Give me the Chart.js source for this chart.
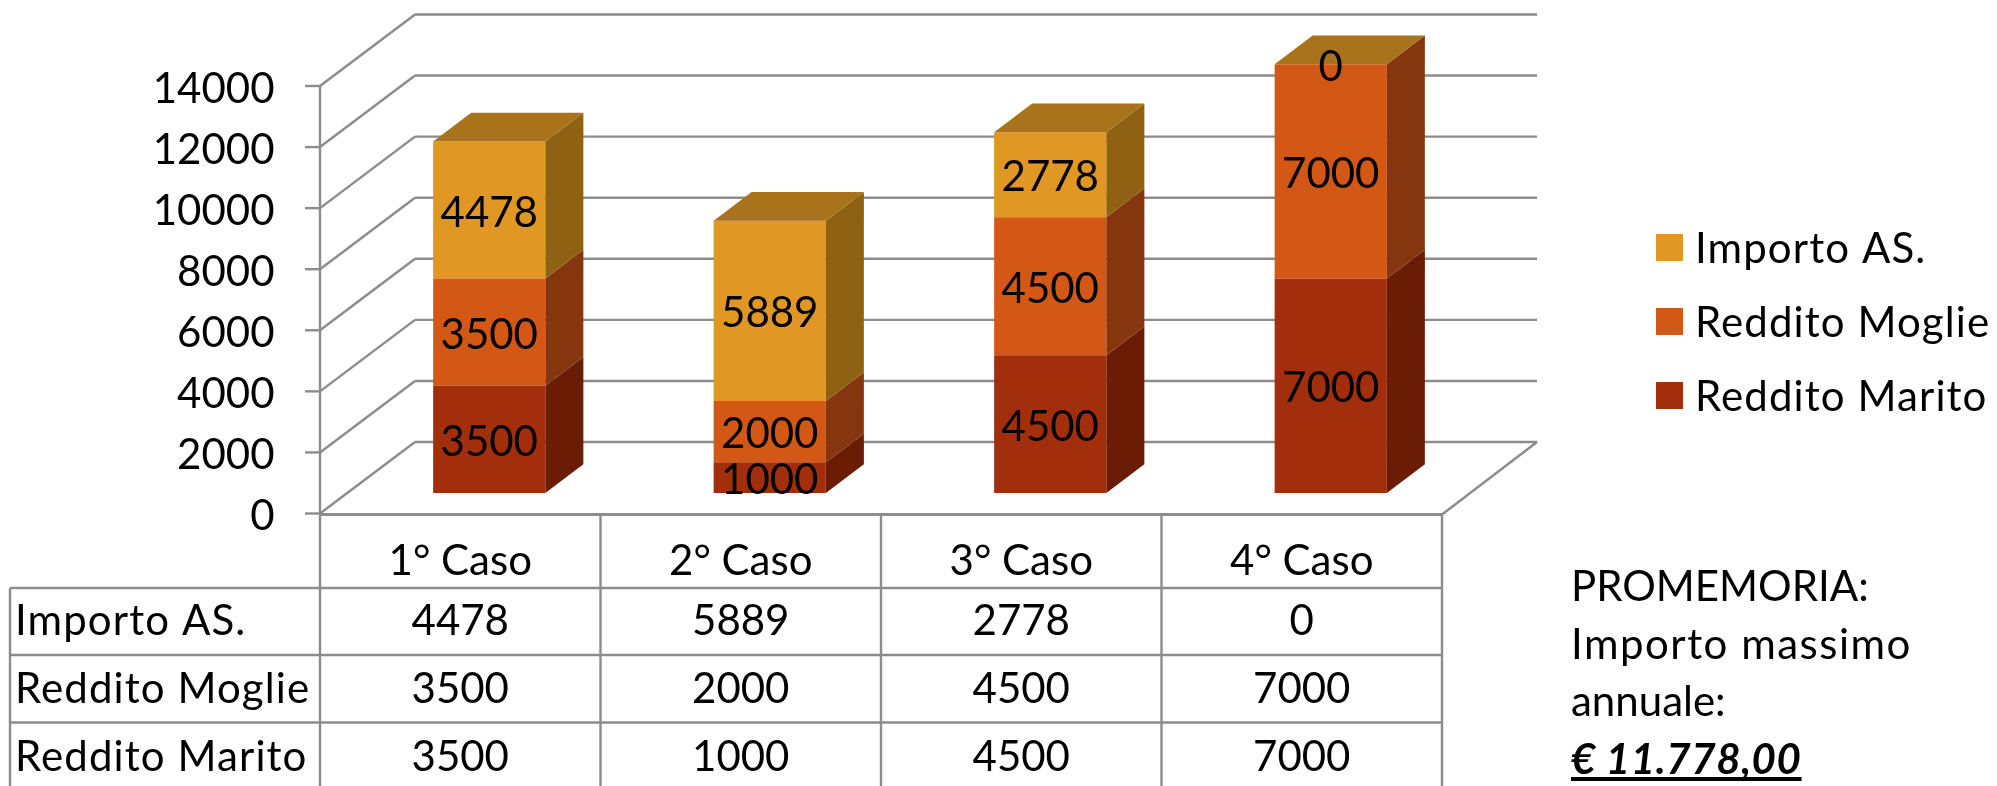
<!DOCTYPE html>
<html lang="it">
<head>
<meta charset="utf-8">
<title>Importo AS.</title>
<script src="https://cdn.jsdelivr.net/npm/chart.js@4"></script>
<style>
    html, body { margin: 0; padding: 0; background: #fff; }
    canvas { display: block; }
    #note {
        position: absolute;
        left: 1571px;
        top: 557px;
        font: 42px/57.5px Lato, sans-serif;
        color: #000;
        white-space: nowrap;
    }
    #note span { letter-spacing: 1.5px; }
    #note b {
        font-style: italic;
        letter-spacing: 0.6px;
        text-decoration: underline;
        text-decoration-skip-ink: none;
    }
</style>
</head>
<body>
<canvas id="chart" width="1997" height="786"></canvas>
<div id="note">PROMEMORIA:<br><span>Importo massimo</span><br>annuale:<br><b>€ 11.778,00</b></div>
<script>
const categories = ["1° Caso", "2° Caso", "3° Caso", "4° Caso"];
const redditoMarito = [3500, 1000, 4500, 7000];
const redditoMoglie = [3500, 2000, 4500, 7000];
const importoAS = [4478, 5889, 2778, 0];
const yTicks = [0, 2000, 4000, 6000, 8000, 10000, 12000, 14000];

const FONT = "42px Lato, sans-serif";
const LINE = "#8c8c8c";

// fake 3D: the wall is pushed back, bars stand partway along the floor
const wall = { x: 95, y: 71.5 };
const barDepth = { x: 38, y: 28.7 };
const barShift = 29;

const table = { left: 10, headerBottom: 588, rowLines: [655, 722.5], bottom: 786 };
const headerY = 561;
const rowY = [621.5, 689.5, 757.5];

function shape(ctx, points, color) {
    ctx.fillStyle = color;
    ctx.beginPath();
    points.forEach((p, i) => (i ? ctx.lineTo(p[0], p[1]) : ctx.moveTo(p[0], p[1])));
    ctx.closePath();
    ctx.fill();
}

function line(ctx, x1, y1, x2, y2, width = 2.4) {
    ctx.strokeStyle = LINE;
    ctx.lineWidth = width;
    ctx.beginPath();
    ctx.moveTo(x1, y1);
    ctx.lineTo(x2, y2);
    ctx.stroke();
}

// walls and floor, behind the bars
const wallPlugin = {
    id: "wall",
    beforeDatasetsDraw(chart) {
        const ctx = chart.ctx;
        const y = chart.scales.y;
        const left = chart.chartArea.left - barShift;
        const right = chart.chartArea.right - barShift;
        ctx.save();
        yTicks.forEach((v) => {
            const py = y.getPixelForValue(v);
            line(ctx, left - 15, py, left, py);
            line(ctx, left, py, left + wall.x, py - wall.y);
            line(ctx, left + wall.x, py - wall.y, right + wall.x, py - wall.y);
        });
        const py0 = y.getPixelForValue(0);
        line(ctx, left, y.getPixelForValue(yTicks[yTicks.length - 1]), left, py0);
        line(ctx, right, py0 + 1, right + wall.x, py0 - wall.y);
        ctx.restore();
    },
};

// side and top faces of the bars, then the value labels
const barFacesPlugin = {
    id: "barFaces",
    afterDatasetsDraw(chart) {
        const ctx = chart.ctx;
        const last = chart.data.datasets.length - 1;
        ctx.save();
        chart.data.datasets.forEach((ds, d) => {
            chart.getDatasetMeta(d).data.forEach((bar) => {
                const xl = bar.x - bar.width / 2;
                const xr = bar.x + bar.width / 2;
                shape(ctx, [[xr, bar.y], [xr + barDepth.x, bar.y - barDepth.y],
                    [xr + barDepth.x, bar.base - barDepth.y], [xr, bar.base]], ds.sideColor);
                if (d === last) {
                    shape(ctx, [[xl, bar.y], [xl + barDepth.x, bar.y - barDepth.y],
                        [xr + barDepth.x, bar.y - barDepth.y], [xr, bar.y]], ds.topColor);
                }
            });
        });
        ctx.fillStyle = "#000";
        ctx.font = FONT;
        ctx.textAlign = "center";
        ctx.textBaseline = "middle";
        chart.data.datasets.forEach((ds, d) => {
            chart.getDatasetMeta(d).data.forEach((bar, i) => {
                ctx.fillText(String(ds.data[i]), bar.x, (bar.y + bar.base) / 2 + 3);
            });
        });
        ctx.restore();
    },
};

// data table under the chart and the legend on the right
const tablePlugin = {
    id: "dataTable",
    afterDraw(chart) {
        const ctx = chart.ctx;
        const x = chart.scales.x;
        const left = chart.chartArea.left - barShift;
        const right = chart.chartArea.right - barShift;
        const top = chart.scales.y.getPixelForValue(0) + 1;
        const rows = chart.data.datasets.slice().reverse();
        const colWidth = (right - left) / categories.length;

        ctx.save();
        line(ctx, left, top, right, top, 3);
        line(ctx, table.left, table.headerBottom, right, table.headerBottom);
        table.rowLines.forEach((py) => line(ctx, table.left, py, right, py));
        line(ctx, table.left, table.headerBottom, table.left, table.bottom);
        categories.forEach((c, i) => line(ctx, left + i * colWidth, top, left + i * colWidth, table.bottom));
        line(ctx, right, top, right, table.bottom);

        ctx.fillStyle = "#000";
        ctx.font = FONT;
        ctx.textBaseline = "middle";
        ctx.textAlign = "center";
        categories.forEach((c, i) => {
            const cx = x.getPixelForTick(i) - barShift;
            ctx.fillText(c, cx, headerY);
            rows.forEach((ds, r) => ctx.fillText(String(ds.data[i]), cx, rowY[r]));
        });
        ctx.textAlign = "left";
        ctx.letterSpacing = "1.1px";
        rows.forEach((ds, r) => ctx.fillText(ds.label, 15, rowY[r]));

        rows.forEach((ds, r) => {
            const top = 234 + r * 74;
            ctx.fillStyle = ds.backgroundColor;
            ctx.fillRect(1656, top, 27, 27);
            ctx.fillStyle = "#000";
            ctx.fillText(ds.label, 1695, top + 15);
        });
        ctx.restore();
    },
};

new Chart(document.getElementById("chart"), {
    type: "bar",
    data: {
        labels: categories,
        datasets: [
            {
                label: "Reddito Marito",
                data: redditoMarito,
                yAxisID: "yBars",
                backgroundColor: "#a32e0c",
                sideColor: "#6a1c05",
            },
            {
                label: "Reddito Moglie",
                data: redditoMoglie,
                yAxisID: "yBars",
                backgroundColor: "#d35815",
                sideColor: "#85360e",
            },
            {
                label: "Importo AS.",
                data: importoAS,
                yAxisID: "yBars",
                backgroundColor: "#e09724",
                sideColor: "#8f6113",
                topColor: "#a8731a",
            },
        ],
    },
    options: {
        responsive: false,
        animation: false,
        layout: { padding: { left: 0, right: 526, top: 86, bottom: 272.5 } },
        datasets: { bar: { categoryPercentage: 1, barPercentage: 0.4, clip: false } },
        scales: {
            x: { stacked: true, display: false },
            y: {
                min: 0,
                max: 14000,
                grid: { display: false, drawTicks: false },
                border: { display: false },
                afterBuildTicks: (scale) => { scale.ticks = yTicks.map((v) => ({ value: v })); },
                // the big tick padding would otherwise push the top of the plot down
                afterFit: (scale) => {
                    scale.width = 349;
                    scale.paddingTop = 0;
                    scale.paddingBottom = 0;
                },
                ticks: {
                    padding: 74.5,
                    labelOffset: 3,
                    color: "#000",
                    font: { family: "Lato, sans-serif", size: 42 },
                    callback: (value) => String(value),
                },
            },
            // same unit size as y, moved down to where the bars stand on the floor
            yBars: { axis: "y", stacked: true, display: false, min: -670, max: 13287 },
        },
        plugins: { legend: { display: false }, tooltip: { enabled: false } },
    },
    plugins: [wallPlugin, barFacesPlugin, tablePlugin],
});
</script>
</body>
</html>
